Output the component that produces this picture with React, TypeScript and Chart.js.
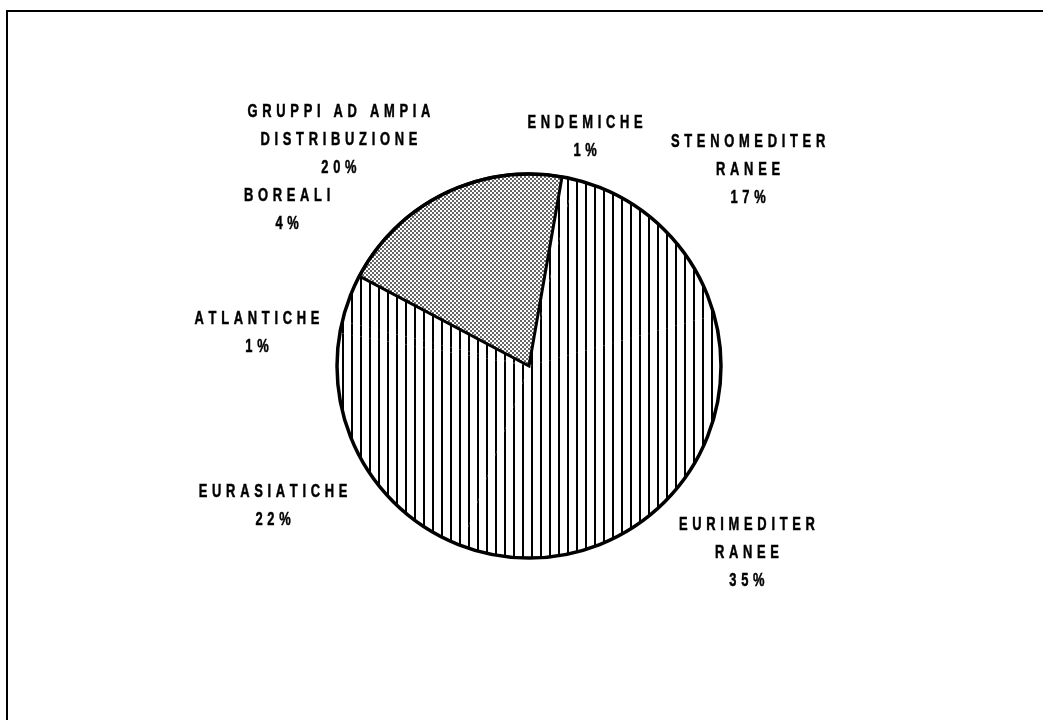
import React, { useEffect, useRef } from "react";
import { Chart, registerables } from "chart.js";

Chart.register(...registerables);

// ---- data ----
const CATEGORIES = [
  "ENDEMICHE",
  "STENOMEDITERRANEE",
  "EURIMEDITERRANEE",
  "EURASIATICHE",
  "ATLANTICHE",
  "BOREALI",
  "GRUPPI AD AMPIA DISTRIBUZIONE",
];
const VALUES = [1, 17, 35, 22, 1, 4, 20];
const LABEL_LINES = [
  ["ENDEMICHE"],
  ["STENOMEDITER", "RANEE"],
  ["EURIMEDITER", "RANEE"],
  ["EURASIATICHE"],
  ["ATLANTICHE"],
  ["BOREALI"],
  ["GRUPPI AD AMPIA", "DISTRIBUZIONE"],
];
const FILL_KIND = ["stripe", "stripe", "stripe", "stripe", "stripe", "stripe", "checker"];

// ---- layout (label block centres relative to pie centre, in radius units) ----
const LABEL_DX = [0.292, 1.141, 1.135, -1.333, -1.417, -1.26, -0.99];
const LABEL_DY = [-1.195, -1.021, 0.974, 0.729, -0.172, -0.815, -1.177];

const START_ANGLE = 9.9;
const FONT = "bold 19px 'Liberation Sans', Arial, sans-serif";
const SCALE_X = 0.68;
const LETTER_GAP = 4.7;
const LINE_H = 28;

function makeStripe(): CanvasPattern | string {
  const c = document.createElement("canvas");
  c.width = 9;
  c.height = 4;
  const g = c.getContext("2d")!;
  g.fillStyle = "#ffffff";
  g.fillRect(0, 0, 9, 4);
  g.fillStyle = "#000000";
  g.fillRect(0, 0, 2, 4);
  return g.createPattern(c, "repeat") || "#fff";
}

function makeChecker(): CanvasPattern | string {
  const c = document.createElement("canvas");
  c.width = 4;
  c.height = 4;
  const g = c.getContext("2d")!;
  g.fillStyle = "#ffffff";
  g.fillRect(0, 0, 4, 4);
  g.fillStyle = "#666666";
  g.fillRect(0, 0, 2, 2);
  g.fillRect(2, 2, 2, 2);
  return g.createPattern(c, "repeat") || "#888";
}

function drawSpaced(ctx: CanvasRenderingContext2D, text: string, x: number, y: number) {
  ctx.save();
  ctx.translate(x, y);
  ctx.scale(SCALE_X, 1);
  const gap = LETTER_GAP / SCALE_X;
  const chars = Array.from(text);
  const widths = chars.map((ch) => ctx.measureText(ch).width);
  const total = widths.reduce((a, b) => a + b, 0) + gap * (chars.length - 1);
  let cx = -total / 2;
  chars.forEach((ch, i) => {
    if (ch !== " ") {
      ctx.fillText(ch, cx, 0);
      ctx.strokeText(ch, cx, 0);
    }
    cx += widths[i] + gap;
  });
  ctx.restore();
}

const outlineAndLabels = {
  id: "outlineAndLabels",
  afterDatasetsDraw(chart: any) {
    const meta = chart.getDatasetMeta(0);
    const arc = meta.data[0];
    if (!arc) return;
    const { x, y, outerRadius: r } = arc;
    const ctx: CanvasRenderingContext2D = chart.ctx;
    ctx.save();
    ctx.beginPath();
    ctx.arc(x, y, r, 0, Math.PI * 2);
    ctx.lineWidth = 3.5;
    ctx.strokeStyle = "#000";
    ctx.stroke();

    const total = VALUES.reduce((a, b) => a + b, 0);
    ctx.font = FONT;
    ctx.fillStyle = "#000";
    ctx.strokeStyle = "#000";
    ctx.lineWidth = 0.5;
    ctx.textAlign = "left";
    ctx.textBaseline = "middle";
    LABEL_LINES.forEach((lines, i) => {
      const all = [...lines, Math.round((VALUES[i] / total) * 100) + "%"];
      const bx = x + LABEL_DX[i] * r;
      const by = y + LABEL_DY[i] * r;
      const top = by - ((all.length - 1) * LINE_H) / 2;
      all.forEach((t, j) => drawSpaced(ctx, t, bx, top + j * LINE_H));
    });
    ctx.restore();
  },
};

export default function App() {
  const ref = useRef<HTMLCanvasElement>(null);
  useEffect(() => {
    if (!ref.current) return;
    const stripe = makeStripe();
    const checker = makeChecker();
    const chart = new Chart(ref.current, {
      type: "pie",
      data: {
        labels: CATEGORIES,
        datasets: [
          {
            data: VALUES,
            backgroundColor: FILL_KIND.map((k) => (k === "checker" ? checker : stripe)) as any,
            borderColor: "#000",
            borderWidth: FILL_KIND.map((k) => (k === "checker" ? 3 : 0)),
            borderJoinStyle: "miter",
          } as any,
        ],
      },
      options: {
        responsive: false,
        animation: false,
        rotation: START_ANGLE,
        radius: 192,
        layout: { padding: { left: 15, right: 0, top: 174, bottom: 162 } },
        plugins: {
          legend: { display: false },
          tooltip: { enabled: false },
        },
        events: [],
      } as any,
      plugins: [outlineAndLabels],
    });
    return () => chart.destroy();
  }, []);

  return (
    <div
      style={{
        position: "fixed",
        left: 0,
        top: 0,
        width: 1043,
        height: 720,
        overflow: "hidden",
        background: "#fff",
      }}
    >
      <div
        style={{
          position: "absolute",
          left: 6,
          top: 10,
          width: 1100,
          height: 800,
          border: "2px solid #000",
          boxSizing: "border-box",
        }}
      />
      <canvas
        ref={ref}
        width={1043}
        height={720}
        style={{ position: "absolute", left: 0, top: 0, display: "block" }}
      />
    </div>
  );
}
